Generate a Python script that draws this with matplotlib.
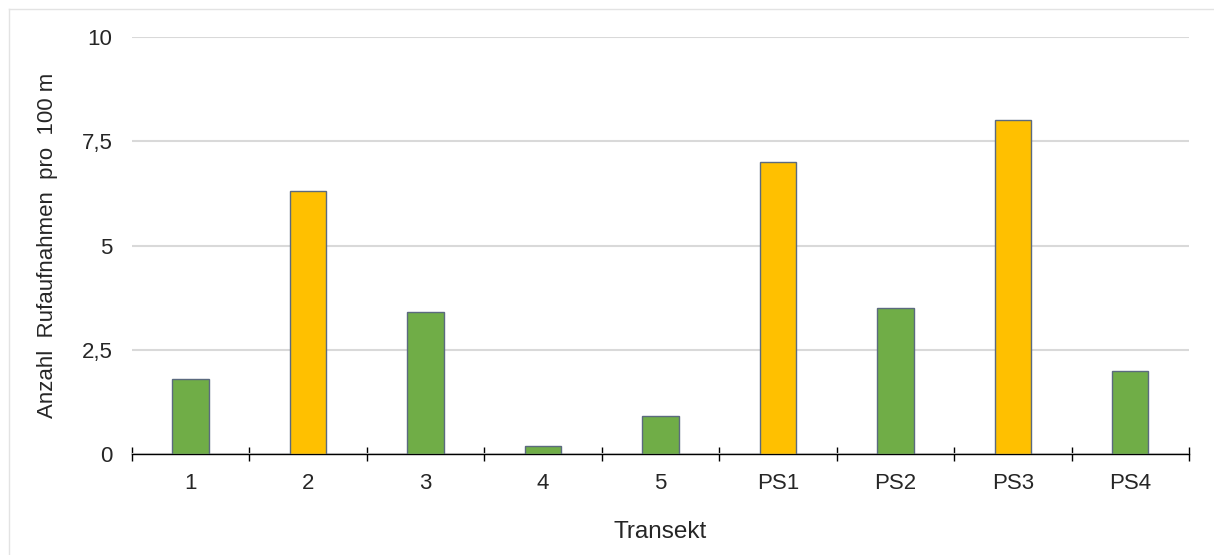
import numpy as np
import matplotlib.pyplot as plt
from matplotlib.lines import Line2D

plt.rcParams['font.family'] = ['Liberation Sans', 'DejaVu Sans']

transekte = ['1', '2', '3', '4', '5', 'PS1', 'PS2', 'PS3', 'PS4']
rufe_pro_100m = [1.8, 6.3, 3.4, 0.2, 0.9, 7.0, 3.5, 8.0, 2.0]
farben = ['#70AD47', '#FFC000', '#70AD47', '#70AD47', '#70AD47',
          '#FFC000', '#70AD47', '#FFC000', '#70AD47']

fig = plt.figure(figsize=(12.14, 5.55), dpi=100)
ax = fig.add_axes([0.1087, 0.182, 0.8707, 0.7513])

# dünner Rahmen oben und links
W, H = 1214, 555
fig.lines.append(Line2D([8.5 / W, 8.5 / W], [0, 1 - 8.5 / H], transform=fig.transFigure,
                        color='#E3E3E3', linewidth=1))
fig.lines.append(Line2D([8.5 / W, 1], [1 - 8.5 / H, 1 - 8.5 / H], transform=fig.transFigure,
                        color='#E3E3E3', linewidth=1))

x = np.arange(len(transekte))
ax.bar(x, rufe_pro_100m, width=0.31, color=farben,
       edgecolor='#5B6A7F', linewidth=1, zorder=3)

ax.set_xlim(-0.5, len(transekte) - 0.5)
ax.set_ylim(0, 10)
ax.set_yticks([0, 2.5, 5, 7.5, 10])
ax.set_yticklabels(['0', '2,5', '5', '7,5', '10'])
ax.yaxis.grid(True, color='#D9D9D9', linewidth=1.5)
ax.set_axisbelow(True)

ax.set_xticks(np.arange(-0.5, len(transekte)), minor=False)
ax.set_xticklabels([])
ax.set_xticks(x, minor=True)
ax.set_xticklabels(transekte, minor=True)
ax.tick_params(axis='x', which='major', direction='inout', length=10,
               width=1, color='black')
ax.tick_params(axis='x', which='minor', length=0, pad=14, labelsize=16,
               labelcolor='#262626')
ax.tick_params(axis='y', length=0, pad=14, labelsize=16, labelcolor='#262626')

for s in ['top', 'right', 'left']:
    ax.spines[s].set_visible(False)
ax.spines['bottom'].set_color('black')
ax.spines['bottom'].set_linewidth(1)

ax.set_ylabel('Anzahl  Rufaufnahmen  pro  100 m', fontsize=16,
              color='#262626', labelpad=17)
ax.set_xlabel('Transekt', fontsize=17.5, color='#262626', labelpad=19)

plt.savefig('out.png', dpi=100)
